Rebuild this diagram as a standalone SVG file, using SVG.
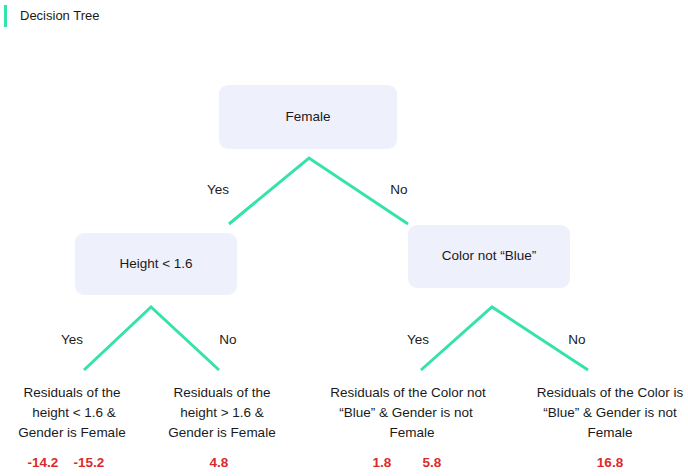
<svg xmlns="http://www.w3.org/2000/svg" width="688" height="476" viewBox="0 0 688 476">
<style>
text{font-family:"Liberation Sans",Arial,sans-serif;fill:#1a1a1a;font-size:13.5px}
.c{text-anchor:middle}
.box{fill:#eef0fb}
.edge{stroke:#36e2ab;stroke-width:3;fill:none;stroke-linecap:butt}
.num{fill:#dc2a2a;font-weight:bold;text-anchor:middle}
</style>
<rect width="688" height="476" fill="#ffffff"/>
<g id="title">
<rect x="4" y="5" width="3" height="22" fill="#36e2ab"/>
<text x="20" y="20" style="font-size:13px">Decision Tree</text>
</g>
<g id="connectors">
<polyline class="edge" points="229,224 309,158 408,224"/>
<polyline class="edge" points="84,370 151,307 219,370"/>
<polyline class="edge" points="421,370 492,307 588,370"/>
<text x="218" y="194" class="c">Yes</text>
<text x="399" y="194" class="c">No</text>
<text x="72" y="344" class="c">Yes</text>
<text x="228" y="344" class="c">No</text>
<text x="418" y="344" class="c">Yes</text>
<text x="577" y="344" class="c">No</text>
</g>
<g id="node-female">
<rect class="box" x="219" y="85" width="178" height="64" rx="9"/>
<text x="308" y="121" class="c">Female</text>
</g>
<g id="node-height">
<rect class="box" x="75" y="233" width="162" height="62" rx="9"/>
<text x="156" y="268" class="c">Height &lt; 1.6</text>
</g>
<g id="node-color">
<rect class="box" x="408" y="225" width="162" height="63" rx="9"/>
<text x="489" y="260" class="c">Color not “Blue”</text>
</g>
<g id="leaf-1">
<text x="72" y="397" class="c">Residuals of the</text>
<text x="74" y="417" class="c">height &lt; 1.6 &amp;</text>
<text x="72" y="437" class="c">Gender is Female</text>
<text x="43" y="467" class="num">-14.2</text>
<text x="89" y="467" class="num">-15.2</text>
</g>
<g id="leaf-2">
<text x="222" y="397" class="c">Residuals of the</text>
<text x="222" y="417" class="c">height &gt; 1.6 &amp;</text>
<text x="222" y="437" class="c">Gender is Female</text>
<text x="219" y="467" class="num">4.8</text>
</g>
<g id="leaf-3">
<text x="408" y="397" class="c">Residuals of the Color not</text>
<text x="406" y="417" class="c">“Blue” &amp; Gender is not</text>
<text x="412" y="437" class="c">Female</text>
<text x="382" y="467" class="num">1.8</text>
<text x="432" y="467" class="num">5.8</text>
</g>
<g id="leaf-4">
<text x="610" y="397" class="c">Residuals of the Color is</text>
<text x="610" y="417" class="c">“Blue” &amp; Gender is not</text>
<text x="610" y="437" class="c">Female</text>
<text x="610" y="467" class="num">16.8</text>
</g>
</svg>
